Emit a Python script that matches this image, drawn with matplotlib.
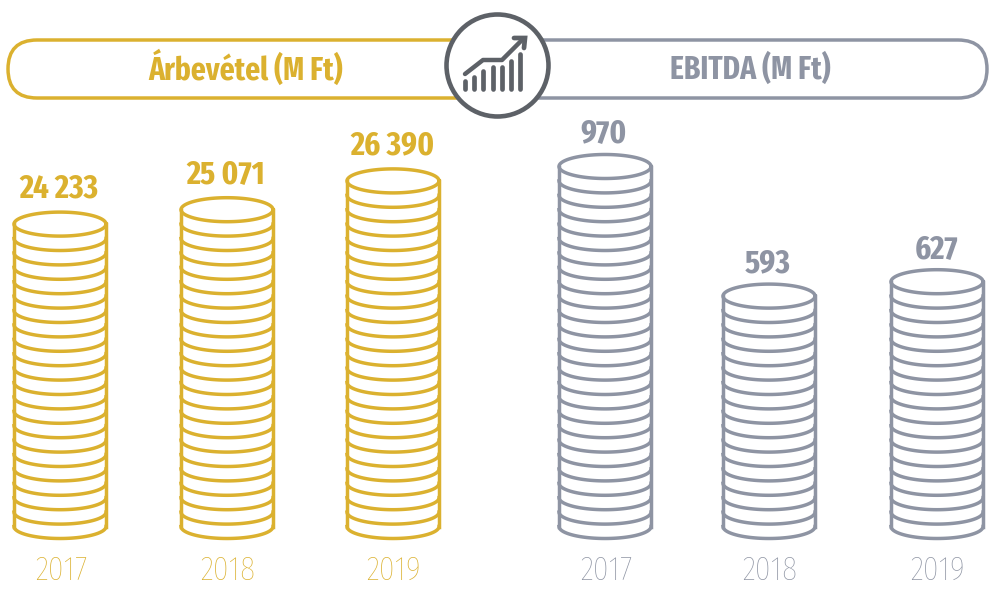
import numpy as np
import matplotlib
matplotlib.use("Agg")
import matplotlib.pyplot as plt
from matplotlib.patches import Circle, FancyBboxPatch

years = ['2017', '2018', '2019']
revenue_labels = ['24 233', '25 071', '26 390']
ebitda_labels = ['970', '593', '627']
# coin rows counted in each stack
revenue_coins = [21, 22, 24]
ebitda_coins = [25, 16, 17]
icon_bars = [8, 12, 18, 22, 22, 28, 35]

GOLD = '#dbb12f'
GREY = '#8e94a3'
DARK = '#5d6167'
FONT = ['Fira Sans Extra Condensed', 'Open Sans Condensed', 'Roboto', 'DejaVu Sans']

BASE_Y = 526.5
COIN_H = 14.4
RX, RY = 46, 12
LW = 2.5

fig = plt.figure(figsize=(9.94, 5.92), dpi=100)
ax = fig.add_axes([0, 0, 1, 1])
ax.set_xlim(0, 994)
ax.set_ylim(592, 0)
ax.axis('off')


def draw_stack(cx, coins, label, year, color, gap):
    top = BASE_Y - coins * COIN_H
    t = np.linspace(0, 2 * np.pi, 120)
    ax.plot(cx + RX * np.cos(t), top + RY * np.sin(t), color=color, lw=LW)
    t = np.linspace(0, np.pi, 60)
    for i in range(1, coins + 1):
        ax.plot(cx + RX * np.cos(t), top + i * COIN_H + RY * np.sin(t), color=color, lw=LW)
    ax.plot([cx - RX, cx - RX], [top, BASE_Y], color=color, lw=LW)
    ax.plot([cx + RX, cx + RX], [top, BASE_Y], color=color, lw=LW)
    ax.text(cx - 1, top - gap, label, color=color, ha='center', va='baseline',
            fontsize=24, fontweight='bold', family=FONT)
    ax.text(cx + 1, 580, year, color=color, ha='center', va='baseline', fontsize=25,
            fontweight='light', family=FONT)


for cx, n, lab, yr in zip([60, 227, 393], revenue_coins, revenue_labels, years):
    draw_stack(cx, n, lab, yr, GOLD, 26.5)
for cx, n, lab, yr in zip([605, 769, 937], ebitda_coins, ebitda_labels, years):
    draw_stack(cx, n, lab, yr, GREY, 24)

# header pills
ax.add_patch(FancyBboxPatch((8, 40), 520, 58, boxstyle='round,pad=0,rounding_size=29',
                            fc='white', ec=GOLD, lw=LW, zorder=2))
ax.add_patch(FancyBboxPatch((467, 40), 520, 58, boxstyle='round,pad=0,rounding_size=29',
                            fc='white', ec=GREY, lw=LW, zorder=3))
ax.text(246, 69, 'Árbevétel (M Ft)', color=GOLD, ha='center', va='center',
        fontsize=23, fontweight='bold', family=FONT, zorder=4)
ax.text(750, 69, 'EBITDA (M Ft)', color=GREY, ha='center', va='center',
        fontsize=23, fontweight='bold', family=FONT, zorder=4)

# icon in the middle
ax.add_patch(Circle((497.5, 65.5), 51, fc='white', ec=DARK, lw=3.3, zorder=5))
for bx, h in zip(np.linspace(465, 520, len(icon_bars)), icon_bars):
    ax.plot([bx, bx], [88.5, 88.5 - h], color=DARK, lw=3.4, solid_capstyle='round', zorder=6)
ax.plot([465, 483, 502, 523], [74, 60, 60, 39], color=DARK, lw=3.2, solid_capstyle='round',
        solid_joinstyle='round', zorder=6)
ax.plot([514, 525, 524], [38, 38, 48], color=DARK, lw=3.4, solid_capstyle='round',
        solid_joinstyle='miter', zorder=6)

fig.savefig('out.png', dpi=100)
